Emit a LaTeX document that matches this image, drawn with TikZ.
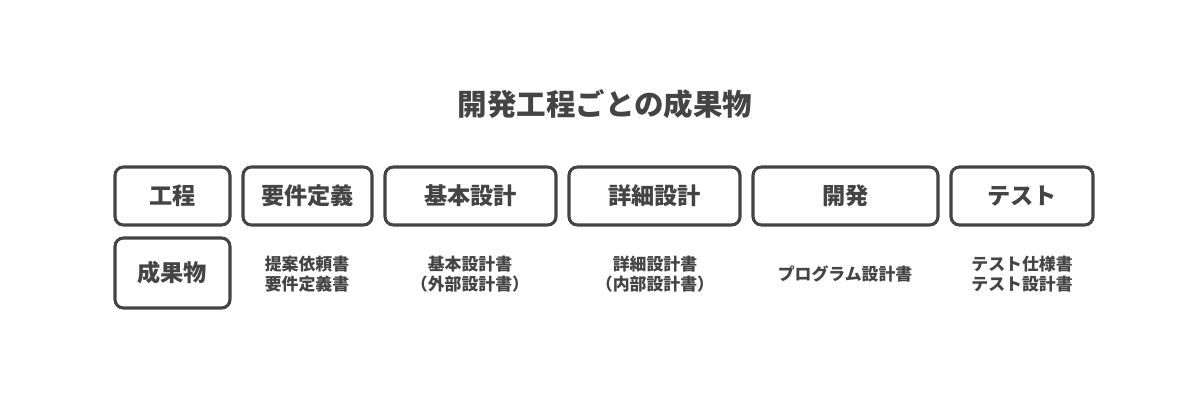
\documentclass[tikz,border=0pt]{standalone}
\usepackage{fontspec}
\setmainfont{Noto Sans CJK JP}
\definecolor{ink}{HTML}{444444}
\begin{document}
\begin{tikzpicture}[x=0.025cm,y=-0.025cm,
  bl/.style={text=ink,font=\fontsize{16.5}{18}\selectfont\bfseries},
  sm/.style={text=ink,align=center,font=\fontsize{12}{14.5}\selectfont\bfseries}]
\useasboundingbox (0,0) rectangle (1200,400);
\node[text=ink,font=\fontsize{21}{24}\selectfont\bfseries] (title) at (605,104) {開発工程ごとの成果物};
\foreach \n/\a/\b/\t in {p/115/230/工程,y/243/372/要件定義,k/385/556/基本設計,s/569/740/詳細設計,d/753/938/開発,t/951/1093/テスト}{
  \draw[draw=ink,line width=2.2pt,rounded corners=6pt] (\a,167) rectangle (\b,225);
  \node[bl] (\n) at ({(\a+\b)/2},196) {\t};
}
\draw[draw=ink,line width=2.2pt,rounded corners=6pt] (115,238) rectangle (230,308);
\node[bl] (g) at (172,273) {成果物};
\node[sm] (g1) at (307,274) {提案依頼書\\要件定義書};
\node[sm] (g2) at (470,274) {基本設計書\\（外部設計書）};
\node[sm] (g3) at (655,274) {詳細設計書\\（内部設計書）};
\node[sm] (g4) at (845,274) {プログラム設計書};
\node[sm] (g5) at (1022,274) {テスト仕様書\\テスト設計書};
\end{tikzpicture}
\end{document}
